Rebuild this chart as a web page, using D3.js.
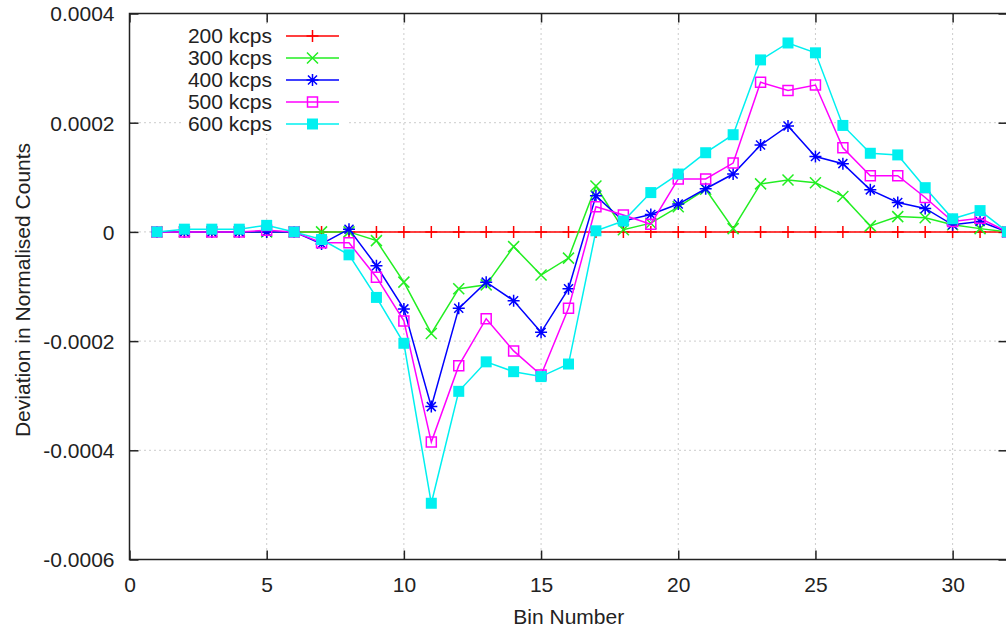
<!DOCTYPE html>
<html><head><meta charset="utf-8">
<script src="https://cdn.jsdelivr.net/npm/d3@7"></script>
<style>body{margin:0;background:#fff;} svg{display:block;} text{font-family:"Liberation Sans",Arial,sans-serif;fill:#222;}</style>
</head><body><svg id="c" width="1006" height="630"></svg>
<script>
const bins = [1,2,3,4,5,6,7,8,9,10,11,12,13,14,15,16,17,18,19,20,21,22,23,24,25,26,27,28,29,30,31,32];
const s200 = [0,0,0,0,0,0,0,0,0,0,0,0,0,0,0,0,0,0,0,0,0,0,0,0,0,0,0,0,0,0,0,0];
const s300 = [0,0,0,0,0,0,0,0,-1.6e-5,-9.2e-5,-1.86e-4,-1.04e-4,-9.7e-5,-2.7e-5,-7.9e-5,-4.8e-5,8.4e-5,4e-6,1.6e-5,4.6e-5,7.8e-5,6e-6,8.8e-5,9.5e-5,9.0e-5,6.5e-5,1.1e-5,2.8e-5,2.6e-5,1.3e-5,6e-6,0];
const s400 = [0,0,0,0,0,0,-2.2e-5,5e-6,-6.2e-5,-1.41e-4,-3.2e-4,-1.40e-4,-9.2e-5,-1.26e-4,-1.84e-4,-1.04e-4,6.6e-5,2.0e-5,3.2e-5,5.1e-5,7.9e-5,1.06e-4,1.59e-4,1.94e-4,1.38e-4,1.25e-4,7.7e-5,5.4e-5,4.3e-5,1.3e-5,1.9e-5,0];
const s500 = [0,0,0,0,3e-6,0,-2e-5,-2e-5,-8.3e-5,-1.63e-4,-3.85e-4,-2.45e-4,-1.59e-4,-2.18e-4,-2.62e-4,-1.40e-4,4.6e-5,3.1e-5,1.4e-5,9.7e-5,9.7e-5,1.26e-4,2.74e-4,2.59e-4,2.69e-4,1.54e-4,1.03e-4,1.03e-4,6.3e-5,1.9e-5,2.5e-5,0];
const s600 = [0,5e-6,5e-6,5e-6,1.2e-5,0,-1.4e-5,-4.2e-5,-1.2e-4,-2.04e-4,-4.97e-4,-2.92e-4,-2.38e-4,-2.56e-4,-2.65e-4,-2.42e-4,2e-6,2.0e-5,7.2e-5,1.06e-4,1.45e-4,1.78e-4,3.15e-4,3.46e-4,3.28e-4,1.95e-4,1.44e-4,1.41e-4,8.1e-5,2.4e-5,3.9e-5,0];
const seriesNames = ["200 kcps","300 kcps","400 kcps","500 kcps","600 kcps"];
const xTicks = [0,5,10,15,20,25,30];
const yTicks = [-0.0006,-0.0004,-0.0002,0,0.0002,0.0004];
const yTickLabels = ["-0.0006","-0.0004","-0.0002","0","0.0002","0.0004"];
const xTitle = "Bin Number";
const yTitle = "Deviation in Normalised Counts";

const series = [
  {name: seriesNames[0], values: s200, color: "#ff0000", marker: "plus"},
  {name: seriesNames[1], values: s300, color: "#22ee22", marker: "cross"},
  {name: seriesNames[2], values: s400, color: "#0000ff", marker: "star"},
  {name: seriesNames[3], values: s500, color: "#ff00ff", marker: "osq"},
  {name: seriesNames[4], values: s600, color: "#00f0f0", marker: "fsq"}
];

const FS = "21px";
const L = 129.5, R = 1007.5, T = 13.5, B = 559.5;
const svg = d3.select("#c");
const x = d3.scaleLinear().domain([0,32]).range([L,R]);
const y = d3.scaleLinear().domain([-0.0006,0.0004]).range([B,T]);

// grid
const grid = svg.append("g").attr("stroke","#999").attr("stroke-width",1).attr("stroke-dasharray","1,4");
xTicks.filter(t=>t>0).forEach(t=>grid.append("line").attr("x1",x(t)).attr("x2",x(t)).attr("y1",T).attr("y2",B));
yTicks.filter(t=>t>-0.0006 && t<0.0004).forEach(t=>grid.append("line").attr("x1",L).attr("x2",R).attr("y1",y(t)).attr("y2",y(t)));

// legend background box
svg.append("rect").attr("x",183).attr("y",24).attr("width",163).attr("height",110).attr("fill","#fff");

// border
svg.append("rect").attr("x",L).attr("y",T).attr("width",R-L).attr("height",B-T).attr("fill","none").attr("stroke","#222").attr("stroke-width",1.5);

// axes with inward ticks
const fmtY = d => yTickLabels[yTicks.findIndex(v=>Math.abs(v-d)<1e-12)];
const axL = svg.append("g").attr("transform",`translate(${L},0)`).call(d3.axisLeft(y).tickValues(yTicks).tickSize(-9).tickPadding(15).tickFormat(fmtY));
const axR = svg.append("g").attr("transform",`translate(${R},0)`).call(d3.axisRight(y).tickValues(yTicks).tickSize(-9).tickFormat(""));
const axB = svg.append("g").attr("transform",`translate(0,${B})`).call(d3.axisBottom(x).tickValues(xTicks).tickSize(-9).tickPadding(18).tickFormat(d3.format("d")));
const axT = svg.append("g").attr("transform",`translate(0,${T})`).call(d3.axisTop(x).tickValues(xTicks).tickSize(-9).tickFormat(""));
[axL,axR,axB,axT].forEach(a=>{a.select(".domain").remove(); a.selectAll(".tick line").attr("stroke","#222").attr("stroke-width",1.5);});
[axL,axB].forEach(a=>a.selectAll(".tick text").style("font-size",FS).attr("fill","#222").style("font-family","'Liberation Sans',Arial,sans-serif"));
axL.selectAll(".tick text").attr("dy","0.35em");
axB.selectAll(".tick text").attr("dy","0.68em");

// titles
svg.append("text").attr("x",(L+1006)/2+1).attr("y",624).attr("text-anchor","middle").style("font-size",FS).text(xTitle);
svg.append("text").attr("transform","translate(30,290) rotate(-90)").attr("text-anchor","middle").style("font-size",FS).text(yTitle);

// marker path
function markerPath(type, cx, cy){
  const p = d3.path();
  if(type==="plus"||type==="star"){ const h=6; p.moveTo(cx-h,cy);p.lineTo(cx+h,cy);p.moveTo(cx,cy-h);p.lineTo(cx,cy+h); }
  if(type==="cross"||type==="star"){ const h=type==="star"?4.5:5.5; p.moveTo(cx-h,cy-h);p.lineTo(cx+h,cy+h);p.moveTo(cx-h,cy+h);p.lineTo(cx+h,cy-h); }
  if(type==="osq"){ const h=5; p.rect(cx-h,cy-h,2*h,2*h); }
  if(type==="fsq"){ const h=5.5; p.rect(cx-h,cy-h,2*h,2*h); }
  return p.toString();
}

const plot = svg.append("g");
const line = d3.line().x((d,i)=>x(bins[i])).y(d=>y(d));
series.forEach(s=>{
  const g = plot.append("g");
  g.append("path").attr("d",line(s.values)).attr("fill","none").attr("stroke",s.color).attr("stroke-width",1.5);
  s.values.forEach((v,i)=>{
    g.append("path").attr("d",markerPath(s.marker,x(bins[i]),y(v)))
      .attr("fill", s.marker==="fsq"?s.color:"none")
      .attr("stroke",s.color).attr("stroke-width",s.marker==="fsq"?0:1.5);
  });
});

// legend
const lg = svg.append("g");
series.forEach((s,i)=>{
  const cy = 36 + i*22;
  lg.append("text").attr("x",272).attr("y",cy).attr("dy","0.35em").attr("text-anchor","end").style("font-size",FS).text(s.name);
  lg.append("line").attr("x1",286).attr("x2",339).attr("y1",cy).attr("y2",cy).attr("stroke",s.color).attr("stroke-width",1.5);
  lg.append("path").attr("d",markerPath(s.marker,312.5,cy)).attr("fill",s.marker==="fsq"?s.color:"none").attr("stroke",s.color).attr("stroke-width",s.marker==="fsq"?0:1.5);
});
</script></body></html>
